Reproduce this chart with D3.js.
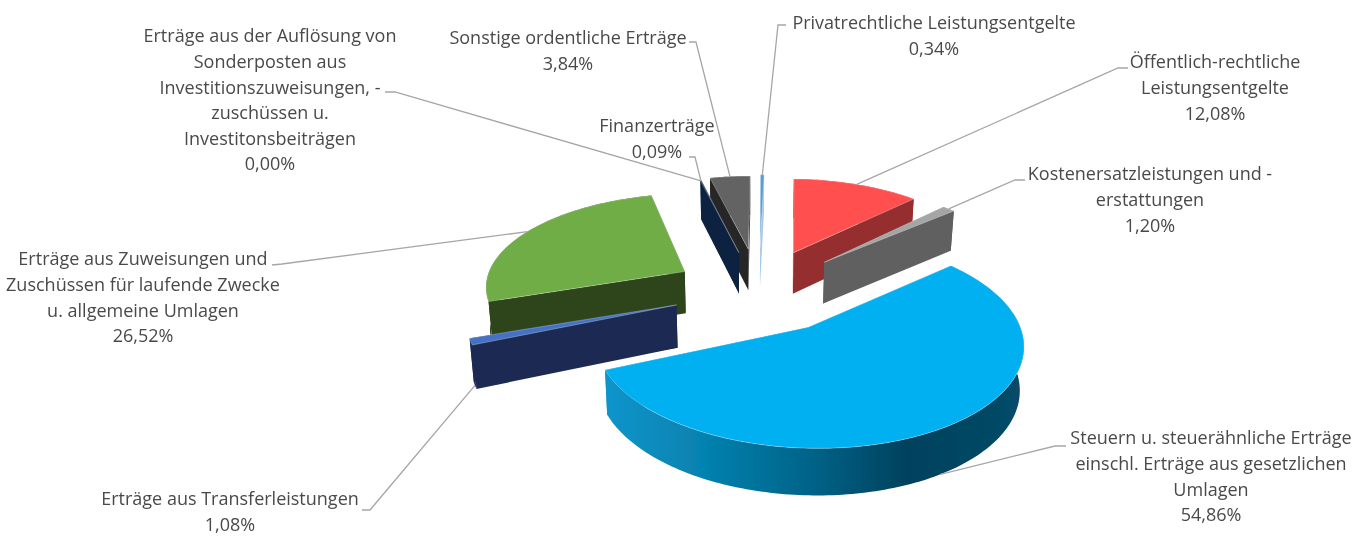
<!DOCTYPE html>
<html lang="de">
<head>
<meta charset="UTF-8">
<title>Erträge</title>
<script src="https://d3js.org/d3.v7.min.js"></script>
<style>
  html, body { margin: 0; background: #fff; }
  text { font-family: "Open Sans", sans-serif; font-size: 18px; fill: #4a4a4a; }
</style>
</head>
<body>
<script>
// data, in pie order (clockwise from the top)
const categories = [
    ["Privatrechtliche Leistungsentgelte"],
    ["Öffentlich-rechtliche", "Leistungsentgelte"],
    ["Kostenersatzleistungen und -", "erstattungen"],
    ["Steuern u. steuerähnliche Erträge", "einschl. Erträge aus gesetzlichen", "Umlagen"],
    ["Erträge aus Transferleistungen"],
    ["Erträge aus Zuweisungen und", "Zuschüssen für laufende Zwecke", "u. allgemeine Umlagen"],
    ["Erträge aus der Auflösung von", "Sonderposten aus", "Investitionszuweisungen, -", "zuschüssen u.", "Investitonsbeiträgen"],
    ["Finanzerträge"],
    ["Sonstige ordentliche Erträge"]
];
const values = [0.34, 12.08, 1.20, 54.86, 1.08, 26.52, 0.00, 0.09, 3.84];

// chart settings
const topColors = ["#5b9bd5", "#ff5050", "#a5a5a5", "#00b0f0", "#4472c4", "#70ad47", "#264478", "#0f2a47", "#636363"];
const wallColors = ["#a9c8e6", "#952e2e", "#606060", "url(#rim)", "#1b2c52", "#2d451a", "#172a4a", "#0c2440", "#262626"];
const explode = [0.49, 0.465, 0.464, 0.441, 0.43, 0.43, 0.44, 0.44, 0.47];

// where each label sits: centre x, middle of first line y
const labelPos = [[934, 23], [1215, 62], [1150, 174], [1211, 438], [230, 499], [143, 259], [270, 36], [657, 126], [568, 38]];
// the label end of each leader line
const elbows = [
    [[786, 25], [778, 25]],
    [[1128, 68], [1118, 68]],
    [[1025, 180], [1015, 180]],
    [[1066, 446], [1055, 446]],
    [[362, 510], [370, 510]],
    [[272, 265], [282, 264]],
    [[385, 92], [395, 92]],
    [[689, 157], [695, 157]],
    [[689, 42], [696, 42]]
];
const lineHeight = 25.6;

const width = 1365, height = 536;

// flat pie plane -> screen, with some perspective (far side is smaller)
const centre = {u: 0.05, v: -0.077};
const persp = 0.135;
const firstAngle = 0.0105;
const xScale = d3.scaleLinear().domain([-1, 1]).range([748.7 - 199, 748.7 + 199]);
const yScale = d3.scaleLinear().domain([-1, 1]).range([283.2 + 91.4, 283.2 - 91.4]);
const baseShrink = 0.985;

function project(u, v, low) {
    const w = 1 + persp * v;
    let x = xScale(u / w), y = yScale(v / w);
    if (low) {
        // the underside of the pie
        x = xScale(u / w * baseShrink);
        y += 21 + 21 / w;
    }
    return [x, y];
}

const svg = d3.select("body").append("svg")
    .attr("width", width)
    .attr("height", height)
    .style("display", "block");

const defs = svg.append("defs");
const rim = defs.append("linearGradient")
    .attr("id", "rim")
    .attr("gradientUnits", "userSpaceOnUse")
    .attr("x1", 605).attr("x2", 1024).attr("y1", 0).attr("y2", 0);
[[0, "#0b95cb"], [0.25, "#0680ad"], [0.5, "#056287"], [0.72, "#03425d"], [1, "#074a68"]].forEach(s => {
    rim.append("stop").attr("offset", s[0]).attr("stop-color", s[1]);
});
defs.append("filter").attr("id", "soft")
    .attr("x", "-5%").attr("y", "-5%").attr("width", "110%").attr("height", "110%")
    .append("feGaussianBlur").attr("stdDeviation", 0.45);

const line = d3.line();
const arcs = d3.pie()
    .sort(null)
    .value(d => d)
    .startAngle(firstAngle)
    .endAngle(firstAngle + 2 * Math.PI)(values);

const slices = arcs.map((a, i) => {
    const mid = (a.startAngle + a.endAngle) / 2;
    return {
        i: i,
        a: a,
        mid: mid,
        u: centre.u + explode[i] * Math.sin(mid),
        v: centre.v + explode[i] * Math.cos(mid)
    };
});

function outerPoints(s, low) {
    const n = Math.max(2, Math.ceil((s.a.endAngle - s.a.startAngle) / 0.02));
    return d3.range(n + 1).map(k => {
        const t = s.a.startAngle + (s.a.endAngle - s.a.startAngle) * k / n;
        return project(s.u + Math.sin(t), s.v + Math.cos(t), low);
    });
}

const pieG = svg.append("g").attr("filter", "url(#soft)");

// far slices first so the near ones paint over them
slices.slice().sort((p, q) => d3.descending(p.v, q.v)).forEach(s => {
    if (values[s.i] === 0) return;
    const top = outerPoints(s, false);
    const low = outerPoints(s, true);
    const apexTop = project(s.u, s.v, false);
    const apexLow = project(s.u, s.v, true);
    const g = pieG.append("g");
    // the two cut faces
    [[top[0], low[0]], [top[top.length - 1], low[low.length - 1]]].forEach(e => {
        g.append("path")
            .attr("d", line([apexTop, e[0], e[1], apexLow]) + "Z")
            .attr("fill", s.i === 3 ? "#0b95cb" : wallColors[s.i]);
    });
    // outer wall
    g.append("path")
        .attr("d", line(top.concat(low.slice().reverse())) + "Z")
        .attr("fill", wallColors[s.i]);
    // top face, thin pale seam around it
    g.append("path")
        .attr("d", line([apexTop].concat(top)) + "Z")
        .attr("fill", topColors[s.i])
        .attr("stroke", "#fff")
        .attr("stroke-opacity", 0.45)
        .attr("stroke-width", 0.6);
});

// leader lines
const fmt = d3.format(".2f");
const leaders = svg.append("g").attr("filter", "url(#soft)");
slices.forEach(s => {
    const front = Math.cos(s.mid) < 0;
    const end = project(s.u + Math.sin(s.mid), s.v + Math.cos(s.mid), front);
    leaders.append("path")
        .attr("d", line(elbows[s.i].concat([end])))
        .attr("fill", "none")
        .attr("stroke", "#a6a6a6")
        .attr("stroke-width", 1.3);
});

// labels
const labels = svg.append("g").attr("filter", "url(#soft)");
categories.forEach((c, i) => {
    const rows = c.concat([fmt(values[i]).replace(".", ",") + "%"]);
    const t = labels.append("text").attr("text-anchor", "middle");
    rows.forEach((row, r) => {
        t.append("tspan")
            .attr("x", labelPos[i][0])
            .attr("y", labelPos[i][1] + r * lineHeight)
            .attr("dy", "0.35em")
            .text(row);
    });
});
</script>
</body>
</html>
